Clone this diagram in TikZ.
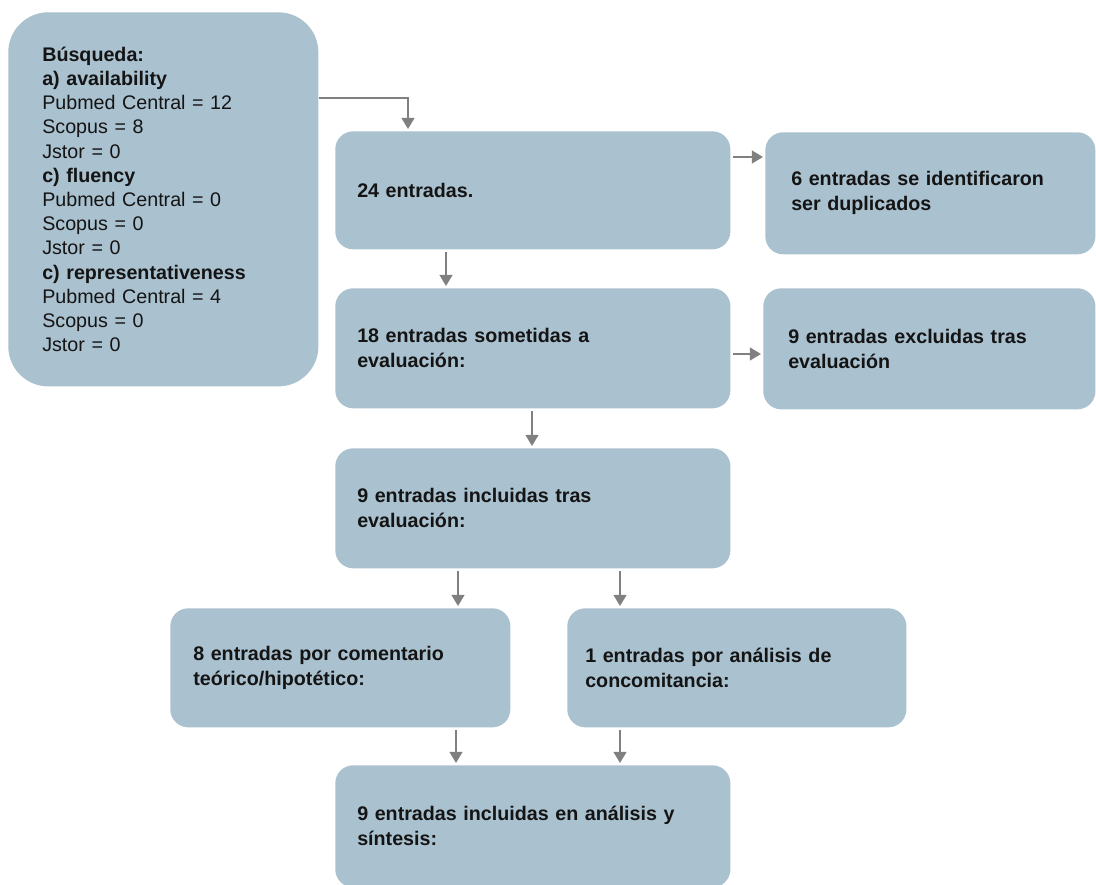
\documentclass[tikz,border=0pt]{standalone}
\usepackage{fontspec}
\setmainfont{Liberation Sans}
\usetikzlibrary{arrows.meta}
\definecolor{boxc}{RGB}{170,193,207}
\definecolor{arrc}{RGB}{128,128,128}
\definecolor{txtc}{RGB}{20,20,20}
\begin{document}
\begin{tikzpicture}[x=0.025cm,y=-0.025cm,
  box/.style={fill=boxc, rounded corners=0.45cm, anchor=north west, align=left,
    inner ysep=0pt, text=txtc, font=\fontsize{14}{17.8}\selectfont\bfseries},
  arr/.style={draw=arrc, line width=1.6pt, -{Triangle[length=0.28cm,width=0.32cm]},
    shorten <=0.06cm, shorten >=0.05cm}]
\useasboundingbox (0,0) rectangle (1096,884);
\fill[white] (0,0) rectangle (1096,884);
% boxes
\node[box, rounded corners=1cm, inner xsep=0.85cm, text width=6.05cm, minimum height=9.35cm,
  font=\fontsize{14}{17.2}\selectfont] (b1) at (8,12)
  {\textbf{Búsqueda:}\\ \textbf{a) availability}\\ Pubmed Central = 12\\ Scopus = 8\\ Jstor = 0\\
   \textbf{c) fluency}\\ Pubmed Central = 0\\ Scopus = 0\\ Jstor = 0\\
   \textbf{c) representativeness}\\ Pubmed Central = 4\\ Scopus = 0\\ Jstor = 0};
\node[box, inner xsep=0.55cm, text width=8.775cm, minimum height=2.95cm] (b2) at (335,131)
  {24 entradas.};
\node[box, inner xsep=0.65cm, text width=6.95cm, minimum height=3.05cm] (b3) at (765,132)
  {6 entradas se identificaron\\ ser duplicados};
\node[box, inner xsep=0.55cm, text width=8.775cm, minimum height=3.0cm] (b4) at (335,288)
  {18 entradas sometidas a\\ evaluación:};
\node[box, inner xsep=0.625cm, text width=7.05cm, minimum height=3.025cm] (b5) at (763,288)
  {9 entradas excluidas tras\\ evaluación};
\node[box, inner xsep=0.55cm, text width=8.775cm, minimum height=3.0cm] (b6) at (335,448)
  {9 entradas incluidas tras\\ evaluación:};
\node[box, inner xsep=0.575cm, text width=7.35cm, minimum height=2.975cm] (b7) at (170,608)
  {8 entradas por comentario\\ teórico/hipotético:};
\node[box, inner xsep=0.45cm, text width=7.575cm, minimum height=2.975cm] (b8) at (567,608)
  {1 entradas por análisis de\\ concomitancia:};
\node[box, inner xsep=0.55cm, text width=8.775cm, minimum height=3.05cm] (b9) at (335,765)
  {9 entradas incluidas en análisis y\\ síntesis:};
% helper coordinates
\coordinate (k1) at (408,98);
\coordinate (k2) at (0,157);
\coordinate (k3) at (446,0);
\coordinate (k4) at (0,354);
\coordinate (k5) at (532,0);
\coordinate (k6) at (458,0);
\coordinate (k7) at (620,0);
\coordinate (k8) at (456,0);
% connectors
\draw[arr, shorten <=0pt] (b1.east |- k1) -- (k1) -- (b2.north -| k1);
\draw[arr] (b2.east |- k2) -- (b3.west |- k2);
\draw[arr] (b2.south -| k3) -- (b4.north -| k3);
\draw[arr] (b4.east |- k4) -- (b5.west |- k4);
\draw[arr] (b4.south -| k5) -- (b6.north -| k5);
\draw[arr] (b6.south -| k6) -- (b7.north -| k6);
\draw[arr] (b6.south -| k7) -- (b8.north -| k7);
\draw[arr] (b7.south -| k8) -- (b9.north -| k8);
\draw[arr] (b8.south -| k7) -- (b9.north -| k7);
\end{tikzpicture}
\end{document}
